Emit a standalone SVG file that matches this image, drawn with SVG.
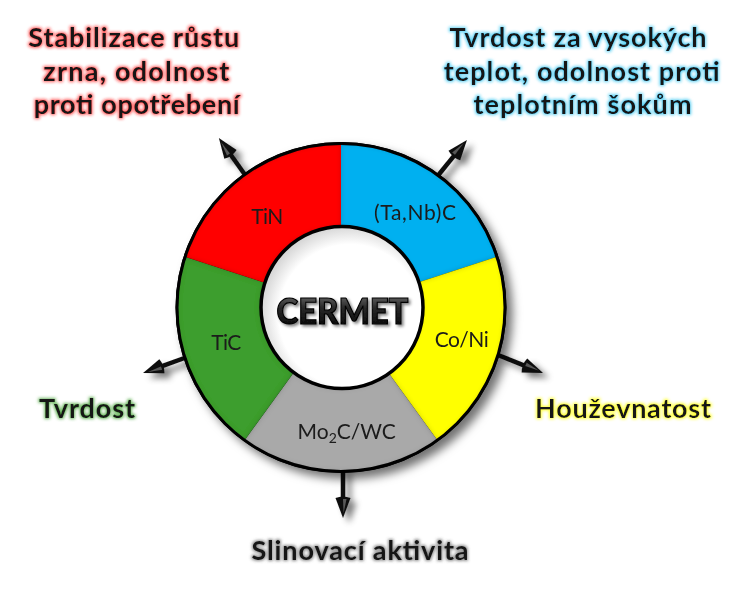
<svg xmlns="http://www.w3.org/2000/svg" width="737" height="595" viewBox="0 0 737 595">
<style>
 .lbl { font-family: Lato, "Liberation Sans", sans-serif; font-weight: 700; font-size: 27px; fill: #141414; text-anchor: middle; }
 .seg { font-family: Lato, "Liberation Sans", sans-serif; font-weight: 400; font-size: 21px; fill: #1a1a1a; text-anchor: middle; }
 .sector { filter: url(#bevel); }
 .arrow { stroke: #111; stroke-width: 4.5; fill: none; marker-end: url(#head); }
</style>
<defs>
 <marker id="head" markerUnits="userSpaceOnUse" markerWidth="26" markerHeight="20" viewBox="-4 -10 26 20" refX="2" refY="0" orient="auto">
  <path d="M0,-7.5 L20,0 L0,7.5 Q-3,0 0,-7.5 Z" fill="#111"/>
  <path d="M1,-3.5 L15,-0.6 L1,0 Z" fill="#888" opacity="0.6"/>
 </marker>
 <linearGradient id="gloss" x1="0" y1="0" x2="0" y2="1">
  <stop offset="0" stop-color="#8a8a8a"/>
  <stop offset="0.45" stop-color="#2a2a2a"/>
  <stop offset="1" stop-color="#000"/>
 </linearGradient>
 <radialGradient id="innerFill" cx="0.55" cy="0.55" r="0.55">
  <stop offset="0.8" stop-color="#fff"/>
  <stop offset="1" stop-color="#d8d8d8"/>
 </radialGradient>
 <filter id="ringShadow" x="-15%" y="-15%" width="135%" height="135%">
  <feGaussianBlur in="SourceAlpha" stdDeviation="5"/>
  <feOffset dx="6" dy="6" result="o"/>
  <feFlood flood-color="#000" flood-opacity="0.55"/>
  <feComposite in2="o" operator="in" result="s"/>
  <feMerge><feMergeNode in="s"/><feMergeNode in="SourceGraphic"/></feMerge>
 </filter>
 <filter id="arrowShadow" x="-20%" y="-20%" width="140%" height="140%">
  <feGaussianBlur in="SourceAlpha" stdDeviation="3"/>
  <feOffset dx="6" dy="5" result="o"/>
  <feFlood flood-color="#000" flood-opacity="0.5"/>
  <feComposite in2="o" operator="in" result="s"/>
  <feMerge><feMergeNode in="s"/><feMergeNode in="SourceGraphic"/></feMerge>
 </filter>
 <filter id="bevel" x="-5%" y="-5%" width="110%" height="110%">
  <feGaussianBlur in="SourceAlpha" stdDeviation="2.5" result="b"/>
  <feComposite in="SourceAlpha" in2="b" operator="out" result="rim"/>
  <feFlood flood-color="#000" flood-opacity="0.35"/>
  <feComposite in2="rim" operator="in" result="sh"/>
  <feMerge><feMergeNode in="SourceGraphic"/><feMergeNode in="sh"/></feMerge>
 </filter>
 <filter id="textShadow" x="-10%" y="-20%" width="125%" height="150%">
  <feGaussianBlur in="SourceAlpha" stdDeviation="1.5"/>
  <feOffset dx="2" dy="2" result="o"/>
  <feFlood flood-color="#000" flood-opacity="0.5"/>
  <feComposite in2="o" operator="in" result="s"/>
  <feMerge><feMergeNode in="s"/><feMergeNode in="SourceGraphic"/></feMerge>
 </filter>
 <filter id="glowRed" x="-10%" y="-30%" width="120%" height="160%">
  <feMorphology in="SourceAlpha" operator="dilate" radius="1" result="d"/>
  <feGaussianBlur in="d" stdDeviation="1.6" result="b"/>
  <feFlood flood-color="#ff2020" flood-opacity="0.7"/>
  <feComposite in2="b" operator="in" result="g"/>
  <feMerge><feMergeNode in="g"/><feMergeNode in="SourceGraphic"/></feMerge>
 </filter>
 <filter id="glowBlue" x="-10%" y="-30%" width="120%" height="160%">
  <feMorphology in="SourceAlpha" operator="dilate" radius="1" result="d"/>
  <feGaussianBlur in="d" stdDeviation="1.6" result="b"/>
  <feFlood flood-color="#20c0f0" flood-opacity="0.7"/>
  <feComposite in2="b" operator="in" result="g"/>
  <feMerge><feMergeNode in="g"/><feMergeNode in="SourceGraphic"/></feMerge>
 </filter>
 <filter id="glowGreen" x="-10%" y="-30%" width="120%" height="160%">
  <feMorphology in="SourceAlpha" operator="dilate" radius="1" result="d"/>
  <feGaussianBlur in="d" stdDeviation="1.6" result="b"/>
  <feFlood flood-color="#40a030" flood-opacity="0.75"/>
  <feComposite in2="b" operator="in" result="g"/>
  <feMerge><feMergeNode in="g"/><feMergeNode in="SourceGraphic"/></feMerge>
 </filter>
 <filter id="glowYellow" x="-10%" y="-30%" width="120%" height="160%">
  <feMorphology in="SourceAlpha" operator="dilate" radius="1" result="d"/>
  <feGaussianBlur in="d" stdDeviation="1.6" result="b"/>
  <feFlood flood-color="#ffff20" flood-opacity="0.9"/>
  <feComposite in2="b" operator="in" result="g"/>
  <feMerge><feMergeNode in="g"/><feMergeNode in="SourceGraphic"/></feMerge>
 </filter>
 <filter id="glowGray" x="-10%" y="-30%" width="120%" height="160%">
  <feMorphology in="SourceAlpha" operator="dilate" radius="1" result="d"/>
  <feGaussianBlur in="d" stdDeviation="1.6" result="b"/>
  <feFlood flood-color="#606060" flood-opacity="0.7"/>
  <feComposite in2="b" operator="in" result="g"/>
  <feMerge><feMergeNode in="g"/><feMergeNode in="SourceGraphic"/></feMerge>
 </filter>
</defs>

<rect width="737" height="595" fill="#fff"/>

<g id="connectors" filter="url(#arrowShadow)">
 <line class="arrow" x1="248" y1="179" x2="229.3" y2="152.7"/>
 <line class="arrow" x1="436" y1="178" x2="455.6" y2="153.9"/>
 <line class="arrow" x1="190" y1="356" x2="160.0" y2="366.9"/>
 <line class="arrow" x1="498" y1="355" x2="526.3" y2="366.3"/>
 <line class="arrow" x1="343" y1="468" x2="343" y2="500"/>
</g>

<g id="ring" filter="url(#ringShadow)">
 <circle cx="341" cy="307.5" r="165.5" fill="#000"/>
 <g id="node-tan">
  <path class="sector" fill="#00b0f0" d="M 341 143.5 A 164 164 0 0 1 496.98 256.82 L 418.04 282.47 A 81 81 0 0 0 341 226.5 Z"/>
  <text class="seg" x="415" y="220" textLength="82">(Ta,Nb)C</text>
 </g>
 <g id="node-coni">
  <path class="sector" fill="#ffff00" d="M 496.98 256.82 A 164 164 0 0 1 437.40 440.18 L 388.61 373.03 A 81 81 0 0 0 418.04 282.47 Z"/>
  <text class="seg" x="461.7" y="347" textLength="54">Co/Ni</text>
 </g>
 <g id="node-mo2c">
  <path class="sector" fill="#a9a9a9" d="M 437.40 440.18 A 164 164 0 0 1 244.60 440.18 L 293.39 373.03 A 81 81 0 0 0 388.61 373.03 Z"/>
  <text class="seg" x="346.7" y="438.5" font-size="21">Mo<tspan font-size="14" dy="4">2</tspan><tspan dy="-4">C/WC</tspan></text>
 </g>
 <g id="node-tic">
  <path class="sector" fill="#3d9e2f" d="M 244.60 440.18 A 164 164 0 0 1 185.02 256.82 L 263.96 282.47 A 81 81 0 0 0 293.39 373.03 Z"/>
  <text class="seg" x="226.2" y="350" textLength="30">TiC</text>
 </g>
 <g id="node-tin">
  <path class="sector" fill="#ff0000" d="M 185.02 256.82 A 164 164 0 0 1 341 143.5 L 341 226.5 A 81 81 0 0 0 263.96 282.47 Z"/>
  <text class="seg" x="267.2" y="224" textLength="32">TiN</text>
 </g>
 <circle cx="341" cy="307.5" r="164" fill="none" stroke="#000" stroke-width="3"/>
</g>

<g id="node-cermet">
 <circle cx="342" cy="307.5" r="81" fill="url(#innerFill)" stroke="#000" stroke-width="3.5"/>
 <text x="342.5" y="323.5" textLength="132" lengthAdjust="spacingAndGlyphs" filter="url(#textShadow)" style="font-family: Lato, 'Liberation Sans', sans-serif; font-weight: 900; font-size: 36px; text-anchor: middle; fill: url(#gloss); stroke: #000; stroke-width: 1.2;">CERMET</text>
</g>

<g id="label-stabilizace" filter="url(#glowRed)">
 <text class="lbl" x="133.8" y="47" textLength="211">Stabilizace růstu</text>
 <text class="lbl" x="136.3" y="81" textLength="186">zrna, odolnost</text>
 <text class="lbl" x="136.7" y="114" textLength="206">proti opotřebení</text>
</g>

<g id="label-tvrdost-vysokych" filter="url(#glowBlue)">
 <text class="lbl" x="578" y="47" textLength="257">Tvrdost za vysokých</text>
 <text class="lbl" x="581.7" y="81" textLength="276">teplot, odolnost proti</text>
 <text class="lbl" x="582.5" y="114" textLength="218">teplotním šokům</text>
</g>

<g id="label-tvrdost" filter="url(#glowGreen)">
 <text class="lbl" x="87" y="417.5" textLength="96">Tvrdost</text>
</g>

<g id="label-houzevnatost" filter="url(#glowYellow)">
 <text class="lbl" x="623" y="417.5" textLength="176">Houževnatost</text>
</g>

<g id="label-slinovaci" filter="url(#glowGray)">
 <text class="lbl" x="360" y="560" textLength="217">Slinovací aktivita</text>
</g>
</svg>
